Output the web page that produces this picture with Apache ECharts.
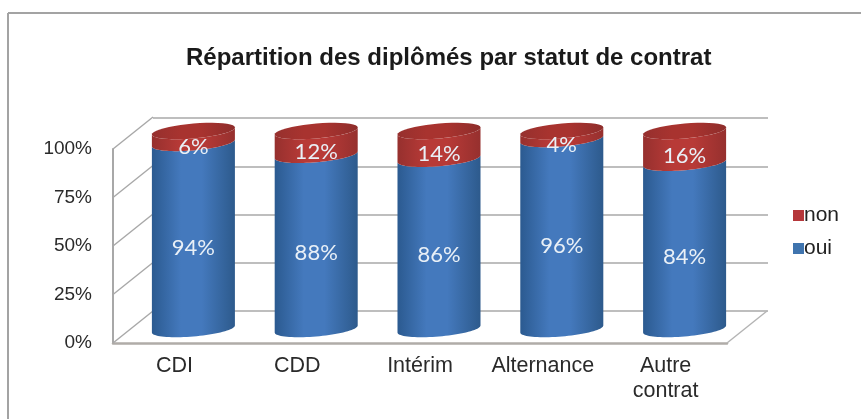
<!DOCTYPE html>
<html>
<head>
<meta charset="utf-8">
<title>Répartition des diplômés par statut de contrat</title>
<script src="https://cdn.jsdelivr.net/npm/echarts@6/dist/echarts.min.js"></script>
<style>
html,body{margin:0;padding:0;background:#fff;}
#chart{width:861px;height:419px;}
</style>
</head>
<body>
<div id="chart"></div>
<script>
var categories=["CDI","CDD","Intérim","Alternance","Autre\ncontrat"];
var oui=[94,88,86,96,84];
var non=[6,12,14,4,16];
var yTicks=[0,25,50,75,100];

//profondeur de la perspective (paroi avant -> paroi du fond)
var depthX=40,depthY=-32;
var capH=7.5,capTilt=-3.5;

function arc(cx,cy,a,from,to){
	var pts=[];
	for(var k=0;k<=40;k++){
		var t=from+(to-from)*k/40;
		pts.push([cx+a*Math.cos(t),cy+capH*Math.sin(t)+capTilt*Math.cos(t)]);
	}
	return pts;
}
function cylGradient(edge,mid,edge2){
	return new echarts.graphic.LinearGradient(0,0,1,0,[
		{offset:0,color:edge},
		{offset:0.35,color:mid},
		{offset:0.6,color:mid},
		{offset:1,color:edge2}
	]);
}
function label(txt,x,y){
	return {type:'text',z2:10,style:{text:txt,x:x,y:y,fill:'#e9f0f7',font:'22px Lato',align:'center',verticalAlign:'middle'}};
}

function renderOui(params,api){
	var i=api.value(0),v=api.value(1);
	var base=api.coord([i,0]),top=api.coord([i,v]);
	var a=api.size([1,0])[0]*0.338;
	var cx=base[0];
	//bas du cylindre + front de la limite oui/non
	var pts=arc(cx,base[1],a,0,Math.PI).concat(arc(cx,top[1],a,Math.PI,0));
	var midY=api.coord([i,v/2])[1]+capH+4;
	return {type:'group',children:[
		{type:'polygon',shape:{points:pts},style:{fill:cylGradient('#2b5a90','#4479bd','#2d5a8c')}},
		label(v+'%',cx,midY)
	]};
}

function renderNon(params,api){
	var i=api.value(0),v=api.value(1);
	var low=100-v;
	var base=api.coord([i,low]),top=api.coord([i,100]);
	var a=api.size([1,0])[0]*0.338;
	var cx=base[0];
	var pts=arc(cx,base[1],a,0,Math.PI).concat(arc(cx,top[1],a,Math.PI,0));
	var cap=arc(cx,top[1],a,0,Math.PI*2);
	var midY=api.coord([i,low+v/2])[1]+capH+2;
	return {type:'group',children:[
		{type:'polygon',shape:{points:pts},style:{fill:cylGradient('#96302e','#b83a37','#96302e')}},
		{type:'polygon',shape:{points:cap},style:{fill:cylGradient('#96302e','#a8332f','#8e2d2b')}},
		label(v+'%',cx,midY)
	]};
}

//diagonales des parois et du sol
function renderWall(params,api){
	var r=params.coordSys;
	var y=api.coord([0,api.value(0)])[1];
	var children=[{type:'line',shape:{x1:r.x,y1:y,x2:r.x+depthX,y2:y+depthY},style:{stroke:'#a8a8a8',lineWidth:1.5}}];
	if(api.value(0)===0){
		children.push({type:'line',shape:{x1:r.x+r.width,y1:y,x2:r.x+r.width+depthX,y2:y+depthY},style:{stroke:'#b4b4b4',lineWidth:1.5}});
	}
	return {type:'group',children:children};
}

var myChart=echarts.init(document.getElementById("chart"));
var option={
	animation:false,
	backgroundColor:"#fff",
	title:{
		text:"Répartition des diplômés par statut de contrat",
		left:181,
		top:41,
		textStyle:{color:"#1a1a1a",fontSize:24,fontWeight:"bold",fontFamily:"Liberation Sans"}
	},
	graphic:[
		{type:'line',shape:{x1:8,y1:13,x2:861,y2:13},style:{stroke:'#a3a3a3',lineWidth:2},silent:true},
		{type:'line',shape:{x1:8,y1:13,x2:8,y2:419},style:{stroke:'#a3a3a3',lineWidth:2},silent:true}
	],
	legend:{
		data:["non","oui"],
		icon:"rect",
		orient:"vertical",
		left:788,
		top:200,
		itemWidth:11,
		itemHeight:11,
		itemGap:12,
		selectedMode:false,
		textStyle:{color:"#222",fontSize:21,fontFamily:"Liberation Sans",padding:[0,0,0,-5]}
	},
	grid:[
		{left:113,top:149,width:614,height:194},
		{left:153,top:118,width:615,height:193},
		{left:132,top:131,width:614,height:198}
	],
	xAxis:[
		{
			gridIndex:0,
			type:"category",
			data:categories,
			axisTick:{show:false},
			axisLine:{lineStyle:{color:"#b0aca8",width:2.5}},
			axisLabel:{color:"#2a2a2a",fontSize:21.5,fontFamily:"Liberation Sans",lineHeight:25,margin:11,interval:0}
		},
		{gridIndex:1,type:"category",data:categories,show:false},
		{gridIndex:2,type:"category",data:categories,show:false}
	],
	yAxis:[
		{
			gridIndex:0,
			type:"value",
			min:0,max:100,interval:25,
			axisLine:{show:true,lineStyle:{color:"#a8a8a8",width:2}},
			axisTick:{show:false},
			splitLine:{show:false},
			axisLabel:{color:"#2a2a2a",fontSize:19,fontFamily:"Liberation Sans",margin:21,formatter:"{value}%",padding:[0,0,3,0]}
		},
		{
			gridIndex:1,
			type:"value",
			min:0,max:100,interval:25,
			axisLine:{show:false},
			axisTick:{show:false},
			axisLabel:{show:false},
			splitLine:{show:true,lineStyle:{color:"#a8a8a8",width:1.5}}
		},
		{gridIndex:2,type:"value",min:0,max:100,interval:25,show:false}
	],
	series:[{
		name:"parois",
		type:"custom",
		xAxisIndex:0,yAxisIndex:0,
		clip:false,silent:true,
		renderItem:renderWall,
		data:yTicks.map(function(t){return [t];}),
		encode:{y:0}
	},{
		name:"oui",
		type:"custom",
		xAxisIndex:2,yAxisIndex:2,
		clip:false,
		itemStyle:{color:"#3f74ae"},
		renderItem:renderOui,
		data:oui.map(function(v,i){return [i,v];}),
		encode:{x:0,y:1}
	},{
		name:"non",
		type:"custom",
		xAxisIndex:2,yAxisIndex:2,
		clip:false,
		itemStyle:{color:"#b5373a"},
		renderItem:renderNon,
		data:non.map(function(v,i){return [i,v];}),
		encode:{x:0,y:1}
	}]
};
myChart.setOption(option);
</script>
</body>
</html>
